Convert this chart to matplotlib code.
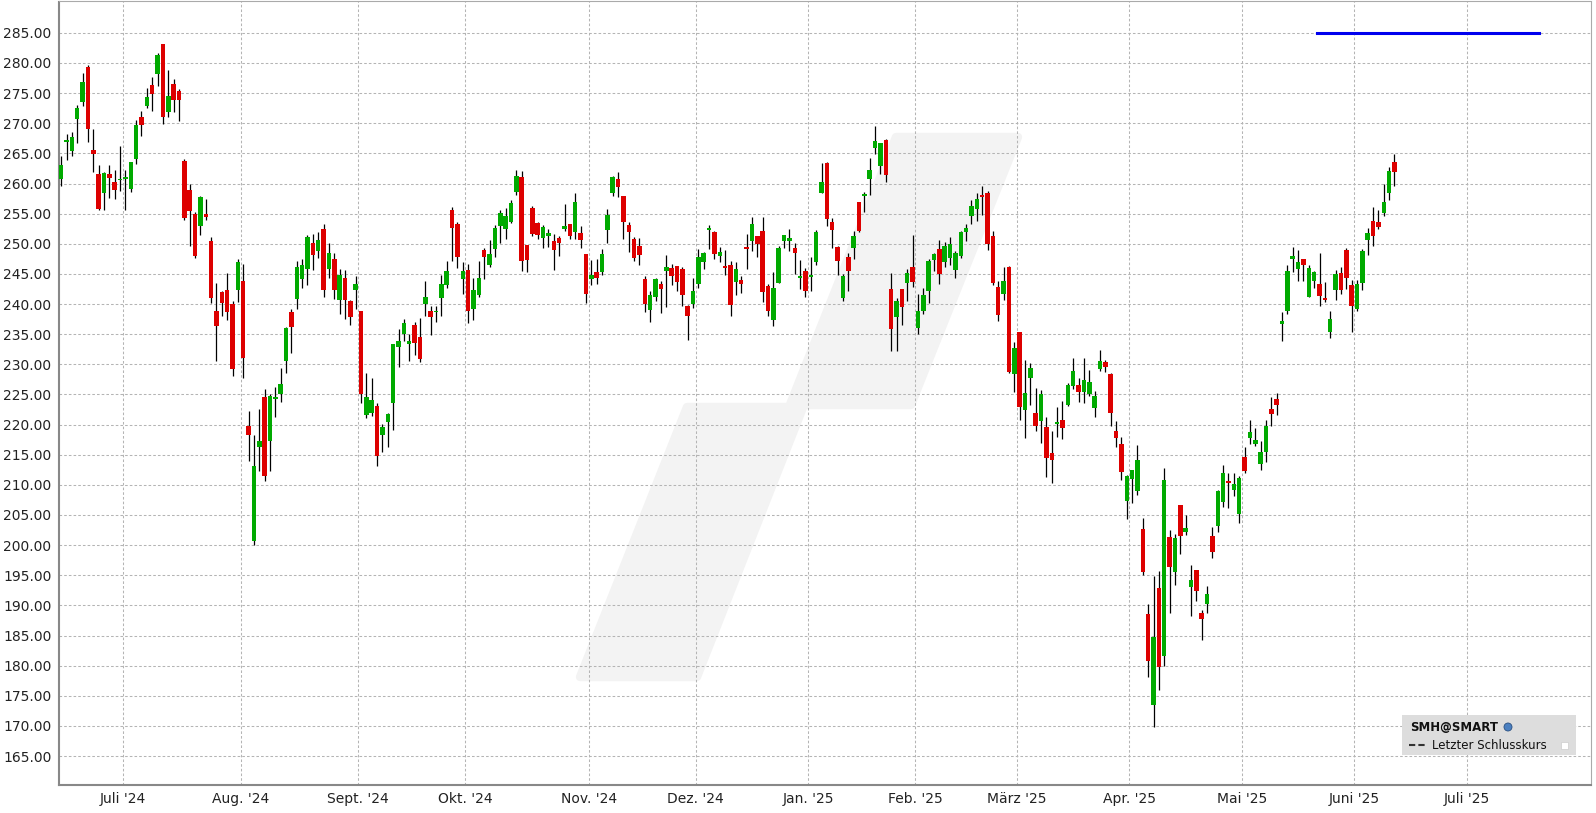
import matplotlib
matplotlib.use("Agg")
import matplotlib.pyplot as plt
import pandas as pd
from matplotlib.patches import Polygon, Rectangle, Ellipse

# SMH daily candles, 2024-06-12 .. 2025-06-11 (US trading days)
us_holidays = ["2024-06-19", "2024-07-04", "2024-09-02", "2024-11-28", "2024-12-25",
               "2025-01-01", "2025-01-09", "2025-01-20", "2025-02-17", "2025-04-18",
               "2025-05-26"]

opens = [260.67, 266.9, 265.4, 270.7, 273.5, 279.35, 265.5, 261.5, 258.4, 261.5,
         260.3, 260.5, 260.7, 259.05, 264.05, 271.1, 272.85, 276.3, 278.2, 283.1,
         271.9, 276.5, 275.3, 263.8, 259.0, 254.9, 252.9, 254.9, 250.5, 238.9,
         242.05, 242.4, 240.0, 242.4, 243.9, 219.8, 200.7, 216.35, 224.6, 217.3,
         224.3, 225.1, 230.5, 238.6, 240.8, 244.1, 245.8, 250.1, 248.75, 252.4,
         245.75, 247.4, 240.6, 244.4, 240.45, 242.4, 238.8, 221.65, 222.0, 223.15,
         218.3, 220.5, 223.5, 232.8, 234.95, 233.3, 236.45, 234.6, 239.95, 238.8,
         238.6, 241.0, 243.1, 255.55, 253.25, 244.15, 245.6, 239.1, 241.45, 248.9,
         246.4, 249.1, 252.9, 252.4, 253.6, 258.55, 261.05, 249.75, 255.9, 253.4,
         250.9, 251.25, 250.4, 250.9, 252.4, 253.25, 251.95, 251.75, 248.25, 244.15,
         245.25, 245.25, 252.25, 258.4, 260.7, 257.9, 253.1, 250.75, 249.6, 244.1,
         238.95, 241.1, 243.25, 245.45, 245.9, 246.25, 245.75, 239.6, 239.95, 243.25,
         246.9, 252.25, 251.9, 248.0, 246.3, 246.45, 243.65, 243.95, 249.4, 250.45,
         251.25, 252.1, 242.95, 237.3, 243.45, 250.45, 250.45, 249.25, 244.3, 245.45,
         244.45, 246.95, 258.4, 263.4, 253.6, 249.4, 240.95, 247.75, 249.25, 257.0,
         257.9, 260.8, 265.9, 262.95, 267.25, 242.5, 237.9, 242.5, 243.45, 246.1,
         236.1, 238.85, 242.15, 247.25, 249.1, 246.95, 247.6, 245.6, 247.95, 251.9,
         254.55, 255.85, 258.05, 258.4, 251.25, 242.8, 241.65, 246.15, 228.4, 235.35,
         222.4, 227.75, 221.95, 220.6, 219.6, 215.3, 220.1, 220.8, 223.25, 226.4,
         226.6, 225.4, 225.1, 222.75, 229.25, 230.4, 228.4, 218.9, 216.75, 207.4,
         211.0, 209.05, 202.7, 188.6, 173.4, 192.9, 181.6, 201.35, 195.6, 206.65,
         202.25, 193.1, 195.9, 188.75, 190.3, 201.5, 203.25, 207.2, 210.7, 209.2,
         205.1, 214.7, 217.8, 216.85, 213.5, 215.5, 222.65, 224.3, 236.65, 238.9,
         247.55, 245.75, 247.4, 241.25, 243.75, 243.25, 241.0, 235.3, 242.4, 245.15,
         249.0, 243.2, 239.25, 243.55, 250.7, 253.8, 253.6, 255.1, 258.5, 263.55]

highs = [264.5, 268.2, 268.6, 273.1, 278.35, 279.7, 269.0, 263.0, 261.9, 263.0,
         262.3, 266.3, 262.2, 263.65, 270.5, 272.0, 275.85, 277.7, 281.7, 283.1,
         278.9, 277.4, 275.6, 264.0, 259.95, 255.25, 257.85, 257.35, 251.2, 243.55,
         242.2, 245.2, 240.55, 247.55, 246.7, 222.2, 218.3, 222.6, 225.9, 225.05,
         226.3, 229.4, 236.25, 239.1, 247.2, 247.4, 251.4, 251.55, 251.9, 253.2,
         250.2, 248.55, 245.75, 245.6, 240.6, 244.6, 238.8, 228.5, 227.65, 223.5,
         220.1, 222.0, 233.3, 235.9, 237.45, 234.95, 237.1, 237.75, 243.75, 239.6,
         239.75, 244.75, 247.1, 256.05, 253.55, 246.9, 246.6, 244.4, 247.1, 249.25,
         250.6, 253.1, 255.55, 255.9, 257.25, 262.2, 262.05, 249.75, 256.25, 253.55,
         253.1, 252.4, 251.6, 251.25, 256.55, 253.25, 258.4, 252.9, 248.25, 247.25,
         247.4, 249.1, 255.75, 261.2, 261.9, 257.9, 253.55, 251.1, 250.9, 244.6,
         242.1, 244.25, 243.75, 248.1, 246.6, 246.25, 246.1, 239.8, 244.4, 249.1,
         248.6, 253.1, 252.1, 249.4, 248.95, 247.1, 246.95, 244.6, 251.6, 254.4,
         251.25, 254.4, 243.3, 245.3, 249.6, 251.45, 252.4, 250.1, 247.25, 245.95,
         247.75, 252.25, 263.4, 263.55, 254.25, 249.6, 244.95, 248.4, 252.05, 257.0,
         258.65, 264.3, 269.55, 266.75, 267.4, 245.1, 241.0, 242.5, 245.8, 251.4,
         241.65, 242.65, 247.45, 248.4, 250.55, 250.25, 251.05, 248.75, 252.05, 253.2,
         257.2, 258.35, 259.55, 258.75, 252.1, 243.8, 246.15, 246.3, 233.7, 235.35,
         230.7, 230.2, 226.1, 225.75, 221.25, 218.95, 222.9, 223.9, 226.9, 231.05,
         227.75, 231.05, 229.05, 225.6, 232.4, 230.7, 228.6, 220.6, 217.9, 211.6,
         212.45, 216.6, 204.5, 190.25, 194.8, 195.7, 212.8, 202.5, 201.85, 206.65,
         205.0, 196.7, 195.9, 189.25, 193.2, 203.0, 209.15, 213.3, 212.0, 212.0,
         211.5, 216.35, 220.8, 219.5, 217.35, 220.8, 224.65, 225.3, 238.6, 246.55,
         249.4, 248.9, 247.55, 246.4, 245.55, 248.55, 243.65, 238.85, 245.65, 246.15,
         249.3, 244.0, 244.0, 249.15, 252.6, 256.1, 255.6, 259.9, 262.75, 264.9]

lows = [259.56, 263.9, 264.5, 266.7, 272.8, 266.9, 261.9, 255.6, 255.6, 257.6,
        257.4, 258.8, 255.6, 258.6, 263.3, 267.9, 272.5, 272.0, 276.2, 269.9,
        271.0, 271.9, 270.4, 254.0, 249.7, 247.6, 251.4, 254.0, 240.1, 230.6,
        238.0, 237.4, 228.0, 240.3, 227.65, 213.9, 200.0, 212.3, 210.65, 212.3,
        221.2, 223.8, 228.6, 231.9, 239.2, 242.7, 243.1, 245.6, 247.6, 241.25,
        244.4, 240.9, 238.3, 237.6, 236.6, 239.1, 223.5, 221.15, 221.5, 213.2,
        215.5, 216.2, 219.15, 229.6, 233.95, 230.6, 231.6, 230.45, 238.1, 234.8,
        236.95, 238.1, 242.65, 247.1, 245.95, 241.6, 236.8, 237.3, 241.1, 244.1,
        246.1, 247.75, 250.1, 250.75, 253.4, 258.05, 245.45, 245.25, 251.25, 250.75,
        249.25, 249.4, 245.6, 247.9, 252.1, 250.75, 250.75, 249.25, 240.1, 243.1,
        243.25, 244.9, 250.1, 257.9, 257.7, 250.75, 248.6, 247.1, 246.4, 238.6,
        237.1, 240.45, 238.45, 239.45, 243.1, 242.1, 239.6, 234.0, 239.3, 242.6,
        245.75, 249.1, 247.4, 247.0, 244.8, 238.1, 241.45, 241.8, 245.8, 248.8,
        247.75, 240.3, 238.1, 236.3, 243.45, 249.25, 248.75, 244.95, 242.45, 241.1,
        242.1, 246.45, 258.4, 252.9, 249.25, 244.8, 240.45, 242.2, 247.45, 251.9,
        255.35, 258.15, 264.95, 261.65, 260.3, 232.15, 232.15, 236.6, 240.5, 242.8,
        234.95, 238.35, 240.2, 245.45, 243.3, 246.1, 246.45, 244.3, 247.6, 250.4,
        253.2, 253.7, 254.75, 248.95, 243.15, 237.2, 240.65, 228.55, 225.4, 220.8,
        217.8, 223.25, 218.95, 216.95, 211.35, 210.35, 217.95, 217.6, 223.1, 225.9,
        223.75, 223.6, 224.75, 221.25, 228.9, 228.75, 219.8, 216.3, 210.85, 204.4,
        207.05, 208.4, 195.1, 178.05, 169.9, 175.9, 180.0, 188.8, 193.45, 198.6,
        201.75, 188.3, 190.8, 184.2, 188.8, 197.9, 202.1, 206.4, 206.1, 208.2,
        203.6, 211.9, 216.8, 216.5, 212.5, 213.85, 219.8, 221.65, 233.8, 238.4,
        245.4, 243.9, 243.9, 241.1, 242.6, 239.75, 240.3, 234.45, 240.6, 241.75,
        242.55, 235.3, 238.9, 242.25, 248.2, 249.7, 252.45, 254.65, 257.25, 259.6]

closes = [263.0, 267.2, 267.8, 272.5, 276.85, 269.0, 264.9, 255.7, 261.7, 260.9,
          258.9, 260.7, 261.0, 263.65, 269.65, 269.7, 274.3, 274.85, 281.3, 271.0,
          274.5, 273.85, 273.85, 254.3, 255.5, 248.05, 257.7, 254.5, 240.95, 236.4,
          240.2, 238.6, 229.3, 246.9, 231.0, 218.35, 213.15, 217.3, 211.4, 224.8,
          224.65, 226.8, 236.1, 236.25, 246.2, 246.55, 251.2, 248.1, 250.55, 242.4,
          248.4, 242.4, 244.9, 240.75, 237.8, 243.4, 225.15, 224.5, 224.15, 214.8,
          219.65, 221.8, 233.3, 233.8, 236.8, 233.8, 233.6, 230.95, 241.1, 237.8,
          238.9, 243.3, 245.45, 252.6, 247.75, 245.45, 238.8, 242.3, 244.4, 247.75,
          248.25, 252.6, 255.05, 254.55, 256.75, 261.2, 247.1, 247.25, 251.6, 251.4,
          252.75, 251.75, 248.9, 250.1, 252.9, 251.25, 256.9, 250.6, 241.6, 244.75,
          244.3, 248.25, 254.75, 261.05, 259.4, 253.55, 251.9, 247.6, 248.1, 239.95,
          241.45, 244.1, 242.45, 246.1, 244.6, 243.6, 241.45, 238.1, 242.1, 247.75,
          248.4, 252.6, 248.25, 248.6, 245.95, 239.8, 245.8, 243.3, 249.1, 253.25,
          249.95, 241.95, 238.8, 242.6, 249.25, 251.45, 250.9, 248.45, 244.6, 242.1,
          244.8, 251.9, 260.25, 254.1, 252.25, 247.1, 244.6, 245.45, 251.25, 252.2,
          258.15, 262.3, 267.1, 266.75, 261.45, 235.9, 240.5, 239.55, 245.1, 243.6,
          238.85, 241.5, 247.1, 248.25, 244.95, 249.6, 249.9, 248.45, 251.9, 252.55,
          256.2, 257.35, 257.8, 249.95, 243.5, 238.2, 243.8, 228.7, 232.7, 222.9,
          225.25, 229.4, 219.8, 225.1, 214.5, 214.15, 220.45, 219.45, 226.6, 228.9,
          225.4, 227.4, 227.1, 224.75, 230.55, 229.55, 221.95, 217.8, 212.2, 211.45,
          212.45, 214.1, 195.6, 180.85, 184.8, 179.85, 210.8, 196.3, 201.2, 201.55,
          202.85, 194.2, 192.45, 187.8, 191.9, 198.9, 209.0, 211.95, 210.35, 210.2,
          211.2, 212.25, 218.8, 217.5, 215.5, 219.8, 221.8, 223.3, 237.25, 245.55,
          247.9, 247.05, 246.4, 245.9, 245.4, 241.4, 240.75, 237.55, 245.0, 242.4,
          244.25, 239.75, 243.35, 248.8, 251.8, 251.35, 252.85, 256.95, 262.05, 261.9]

month_starts = ["2024-07", "2024-08", "2024-09", "2024-10", "2024-11", "2024-12", "2025-01",
                "2025-02", "2025-03", "2025-04", "2025-05", "2025-06", "2025-07"]
month_labels = ["Juli '24", "Aug. '24", "Sept. '24", "Okt. '24", "Nov. '24", "Dez. '24",
                "Jan. '25", "Feb. '25", "März '25", "Apr. '25", "Mai '25", "Juni '25",
                "Juli '25"]

blue_level = 285.0
blue_from, blue_to = 234.5, 276.0  # trading-day positions

dates = pd.bdate_range("2024-06-12", "2025-06-11", freq="C", holidays=us_holidays)
future = pd.bdate_range("2025-06-12", "2025-08-29")
all_dates = dates.append(future)

W, H = 1596, 813
fig = plt.figure(figsize=(W / 100, H / 100), dpi=100)
ax = fig.add_axes([58.5 / W, 1 - 785 / H, (1591 - 58.5) / W, (785 - 1.5) / H])

# watermark
wm_px = [(580, 677), (687, 407), (789, 407), (896, 137), (1018, 137), (911, 405),
         (804, 405), (697, 677)]
ax.add_patch(Polygon([(x / W, 1 - y / H) for x, y in wm_px], closed=True,
                     transform=fig.transFigure, facecolor="#f3f3f3", edgecolor="#f3f3f3",
                     linewidth=6, joinstyle="round", zorder=0))

x = list(range(len(opens)))
up_col, down_col = "#00aa00", "#dd0000"
colors = [up_col if c >= o else down_col for o, c in zip(opens, closes)]
ax.vlines(x, lows, highs, color="black", linewidth=0.9, zorder=2)
bottoms = [min(o, c) for o, c in zip(opens, closes)]
heights = [max(abs(c - o), 0.3) for o, c in zip(opens, closes)]
ax.bar(x, heights, bottom=bottoms, width=0.84, color=colors, linewidth=0, zorder=3)

ax.plot([blue_from, blue_to], [blue_level, blue_level], color="#0000ee", linewidth=2.2,
        zorder=4)

# month ticks between last day of previous month and first day of month
pos = []
for m in month_starts:
    idx = next(i for i, d in enumerate(all_dates) if d.strftime("%Y-%m") == m)
    pos.append(idx - 0.5)
ax.set_xticks(pos)
ax.set_xticklabels(month_labels)
ax.set_yticks([165 + 5 * i for i in range(25)])
ax.set_yticklabels([f"{165 + 5 * i:.2f}" for i in range(25)])

ax.set_xlim(-0.5, 285.7)
ax.set_ylim(160.2, 290.2)
ax.grid(True, color="#b4b4b4", linestyle=(0, (2.5, 2)), linewidth=0.75)
ax.set_axisbelow(True)
ax.tick_params(length=0, labelsize=10, colors="#222222", pad=5)
for s in ax.spines.values():
    s.set_color("#aaaaaa")
    s.set_linewidth(0.8)
ax.spines["left"].set_color("#888888")
ax.spines["bottom"].set_color("#888888")
ax.spines["left"].set_linewidth(1.5)
ax.spines["bottom"].set_linewidth(1.5)
ax.patch.set_alpha(0)

# legend box
fig.patches.append(Rectangle((1402 / W, 1 - 755 / H), 174 / W, 40 / H,
                             transform=fig.transFigure, facecolor="#dddddd",
                             edgecolor="none", zorder=5))
fig.text(1410 / W, 1 - 727 / H, "SMH@SMART", fontsize=8.5, fontweight="bold",
         va="center", ha="left", color="#111111", zorder=6)
fig.patches.append(Ellipse((1508 / W, 1 - 727 / H), 8 / W, 8 / H, transform=fig.transFigure,
                           facecolor="#4a7fc0", edgecolor="#2a4f80", linewidth=0.6,
                           zorder=6))
fig.lines.append(plt.Line2D([1409 / W, 1425 / W], [1 - 745 / H, 1 - 745 / H],
                            transform=fig.transFigure, color="#333333", linewidth=1.5,
                            linestyle=(0, (3, 1.5)), zorder=6))
fig.text(1432 / W, 1 - 745 / H, "Letzter Schlusskurs", fontsize=8.5, va="center",
         ha="left", color="#111111", zorder=6)
fig.patches.append(Rectangle((1561 / W, 1 - 749 / H), 7 / W, 7 / H,
                             transform=fig.transFigure, facecolor="white",
                             edgecolor="#cccccc", linewidth=0.5, zorder=6))

fig.savefig("out.png", dpi=100)
